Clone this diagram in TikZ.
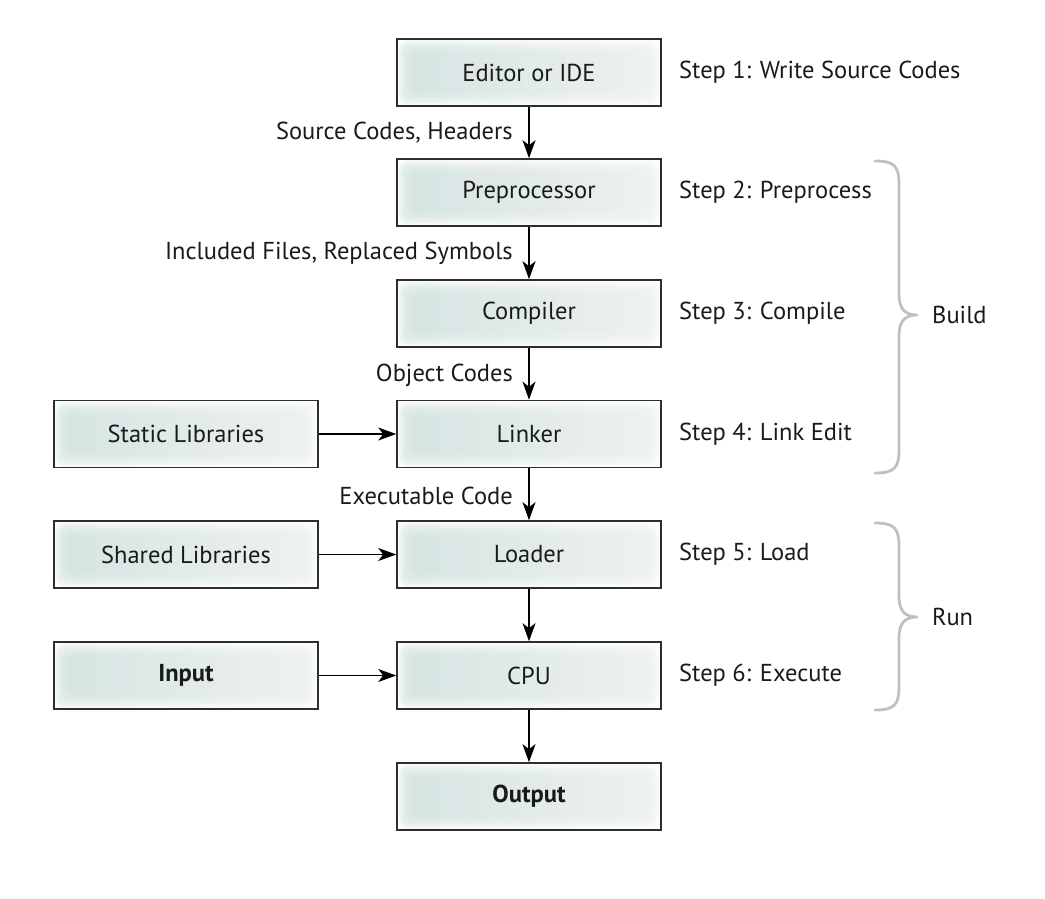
\documentclass[tikz,border=0pt]{standalone}
\usepackage{fontspec}
\setmainfont{PT Sans}
\usetikzlibrary{arrows.meta,calc}
\definecolor{boxedge}{HTML}{2E2E2E}
\definecolor{glowL}{RGB}{175,206,201}
\definecolor{glowR}{RGB}{225,235,232}
\definecolor{bracegray}{RGB}{192,192,192}
\definecolor{ink}{HTML}{1A1A1A}

\begin{document}
\begin{tikzpicture}[x=1pt,y=-1pt,
  every node/.style={font=\fontsize{24.5}{28}\selectfont, text=ink},
  stage/.style={draw=boxedge, line width=1.6pt, fill=white,
    minimum width=264pt, minimum height=67pt, inner sep=0pt,
    path picture={
      \foreach \d in {1,2.6,...,16}{
        \fill[left color=glowL, right color=glowR, fill opacity=0.1, rounded corners=8pt]
          ([shift={(\d pt,\d pt)}]path picture bounding box.south west) rectangle
          ([shift={(-\d pt,-\d pt)}]path picture bounding box.north east);
      }}},
  flow/.style={-{Stealth[length=18pt,width=13pt,inset=5pt]}, line width=1.7pt, draw=black},
  edgelabel/.style={anchor=east, inner sep=2pt},
  steplabel/.style={anchor=west, inner sep=2pt},
  bracket/.style={draw=bracegray, line width=2.8pt, line cap=round, line join=round},
]
\useasboundingbox (0,0) rectangle (1045,899);

% main pipeline
\node[stage] (ide)  at (529,72.5)  {Editor or IDE};
\node[stage] (pre)  at (529,192.5) {Preprocessor};
\node[stage] (comp) at (529,313.5) {Compiler};
\node[stage] (link) at (529,434)   {Linker};
\node[stage] (load) at (529,554.5) {Loader};
\node[stage] (cpu)  at (529,675.5) {CPU};
\node[stage] (out)  at (529,796.5) {\bfseries Output};

% side inputs
\node[stage] (stat) at (186,434)   {Static Libraries};
\node[stage] (shar) at (186,554.5) {Shared Libraries};
\node[stage] (inp)  at (186,675.5) {\bfseries Input};

% connectors
\draw[flow] (ide) -- (pre);
\draw[flow] (pre) -- (comp);
\draw[flow] (comp) -- (link);
\draw[flow] (link) -- (load);
\draw[flow] (load) -- (cpu);
\draw[flow] (cpu) -- (out);
\draw[flow] (stat) -- (link);
\draw[flow] (shar) -- (load);
\draw[flow] (inp) -- (cpu);

% what travels between the stages
\node[edgelabel] (e1) at (515,132.5) {Source Codes, Headers};
\node[edgelabel] (e2) at (515,253.5) {Included Files, Replaced Symbols};
\node[edgelabel] (e3) at (515,375)   {Object Codes};
\node[edgelabel] (e4) at (515,495.5) {Executable Code};

% step captions
\node[steplabel] (s1) at (677,72.5)  {Step 1: Write Source Codes};
\node[steplabel] (s2) at (677,192.5) {Step 2: Preprocess};
\node[steplabel] (s3) at (677,313.5) {Step 3: Compile};
\node[steplabel] (s4) at (677,434)   {Step 4: Link Edit};
\node[steplabel] (s5) at (677,554.5) {Step 5: Load};
\node[steplabel] (s6) at (677,675.5) {Step 6: Execute};

% phase braces
\draw[bracket] (875,161) .. controls (894,161) and (899,166) .. (899,184)
  -- (899,294) .. controls (899,309) and (905,315) .. (917,315)
  .. controls (905,315) and (899,321) .. (899,336)
  -- (899,450) .. controls (899,468) and (894,473) .. (875,473);
\node[steplabel] (build) at (930,315) {Build};

\draw[bracket] (875,523) .. controls (894,523) and (899,528) .. (899,546)
  -- (899,596) .. controls (899,611) and (905,617) .. (917,617)
  .. controls (905,617) and (899,623) .. (899,638)
  -- (899,687) .. controls (899,705) and (894,710) .. (875,710);
\node[steplabel] (run) at (930,617) {Run};
\end{tikzpicture}
\end{document}
